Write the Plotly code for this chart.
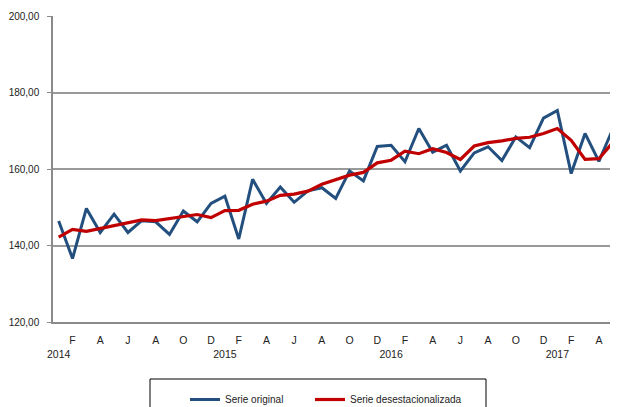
import plotly.graph_objects as go

months = [f"{y}-{m:02d}" for y in range(2014, 2018) for m in range(1, 13)][:41]

serie_original = [146.4, 136.6, 149.7, 143.4, 148.2, 143.4, 146.5, 146.2, 142.9, 149.0,
                  146.2, 151.0, 152.9, 141.7, 157.3, 151.0, 155.3, 151.3, 154.3, 155.1,
                  152.3, 159.5, 156.9, 165.9, 166.2, 161.9, 170.6, 164.4, 166.2, 159.5,
                  164.2, 165.8, 162.2, 168.4, 165.6, 173.3, 175.3, 158.8, 169.3, 162.0,
                  170.4]

serie_desest = [142.2, 144.2, 143.7, 144.4, 145.1, 145.9, 146.7, 146.5, 147.1, 147.5,
                148.1, 147.3, 149.1, 149.2, 150.8, 151.6, 153.1, 153.45, 154.2, 156.0,
                157.3, 158.4, 159.1, 161.6, 162.3, 164.65, 164.0, 165.3, 164.3, 162.5,
                166.0, 166.9, 167.35, 168.0, 168.3, 169.3, 170.6, 167.5, 162.5, 162.7,
                166.9]

letters = {1: "", 2: "F", 4: "A", 6: "J", 8: "A", 10: "O", 12: "D"}
tick_vals = []
tick_text = []
for mth in months:
    y, m = mth.split("-")
    m = int(m)
    if m in letters:
        tick_vals.append(mth)
        tick_text.append(f" <br>{y}" if m == 1 else letters[m])

y_ticks = [120, 140, 160, 180, 200]

# page offset of 8px (body margin)
OFF = 8
W, H = 610, 399
PL, PT, PB, PR = 53 - OFF, 16 - OFF, H - (322 - OFF), 0
pw, ph = W - PL - PR, H - PT - PB

def px_x(sx):
    return (sx - OFF - PL) / pw

def px_y(sy):
    return 1 - (sy - OFF - PT) / ph

FONT = "Liberation Sans, Arial, sans-serif"

fig = go.Figure()
fig.add_trace(go.Scatter(x=months, y=serie_original, mode="lines", name="Serie original",
                         line=dict(color="#234F7F", width=3), legend="legend"))
fig.add_trace(go.Scatter(x=months, y=serie_desest, mode="lines", name="Serie desestacionalizada",
                         line=dict(color="#C00000", width=3.2), legend="legend2"))

leg_common = dict(orientation="h", yanchor="top", xanchor="left",
                  bgcolor="rgba(0,0,0,0)", font=dict(size=10, color="#222222"),
                  itemwidth=30)

fig.update_layout(
    width=W, height=H,
    margin=dict(l=PL, r=PR, t=PT, b=PB, autoexpand=False),
    paper_bgcolor="white", plot_bgcolor="white",
    font=dict(family=FONT, size=10, color="#222222"),
    showlegend=True,
    legend=dict(x=px_x(185), y=px_y(385), **leg_common),
    legend2=dict(x=px_x(310), y=px_y(385), **leg_common),
    shapes=[dict(type="rect", xref="paper", yref="paper",
                 x0=px_x(150), x1=px_x(486),
                 y0=px_y(420), y1=px_y(379),
                 line=dict(color="black", width=1), fillcolor="rgba(0,0,0,0)")],
    separators=",.",
)

fig.update_xaxes(type="category", range=[-0.41, 40.38], tickmode="array",
                 tickvals=tick_vals, ticktext=tick_text, tickangle=0, showgrid=False,
                 showline=True, linecolor="#8a8a8a", linewidth=1.5,
                 ticks="", ticklabelstandoff=8, automargin=False,
                 tickfont=dict(size=10.5))
fig.update_yaxes(range=[120, 200], tickvals=y_ticks, tickformat=".2f",
                 showgrid=True, gridcolor="#999999", gridwidth=1.5,
                 showline=True, linecolor="#8a8a8a", linewidth=1.5,
                 ticks="outside", ticklen=4, tickcolor="#8a8a8a",
                 ticklabelstandoff=6, zeroline=False, automargin=False)

fig.write_html("out.html")
